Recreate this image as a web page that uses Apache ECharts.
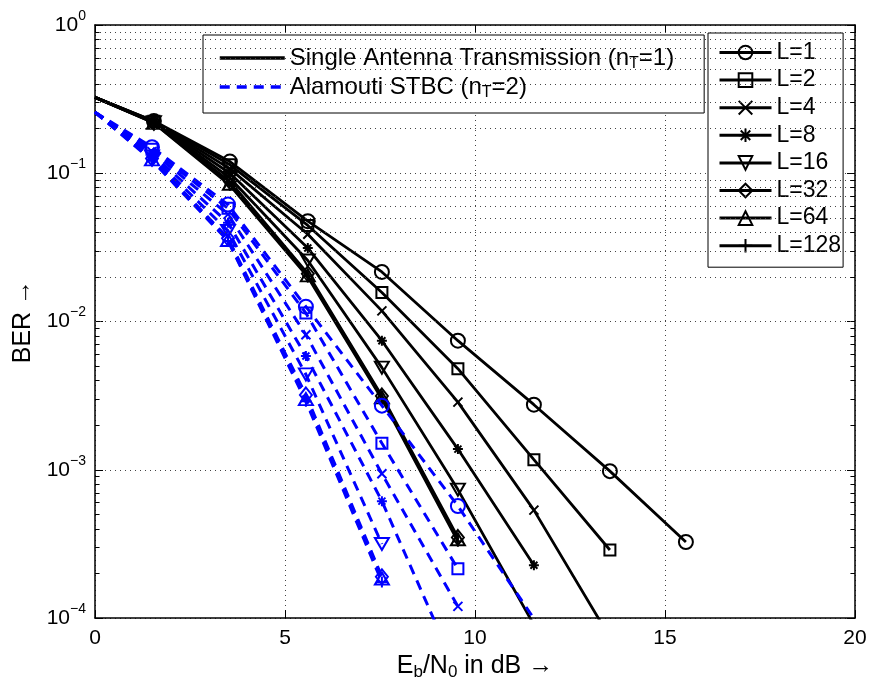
<!DOCTYPE html>
<html>
<head>
<meta charset="utf-8">
<script src="https://cdn.jsdelivr.net/npm/echarts@6/dist/echarts.min.js"></script>
<style>
  html, body { margin: 0; padding: 0; background: #fff; }
  #chart { width: 870px; height: 686px; }
</style>
</head>
<body>
<div id="chart"></div>
<script>
// Eb/N0 grid in dB
var ebnoSingle   = [0, 1.55, 3.55, 5.6, 7.55, 9.55, 11.55, 13.55, 15.55];
var ebnoAlamouti = [0, 1.5, 3.5, 5.55, 7.55, 9.55, 11.6];

var orders = ['L=1', 'L=2', 'L=4', 'L=8', 'L=16', 'L=32', 'L=64', 'L=128'];

// BER, single antenna transmission (nT=1)
var single1   = [0.325, 0.225, 0.120, 0.0475, 0.0216, 0.00743, 0.00275, 0.00098, 0.000326];
var single2   = [0.325, 0.224, 0.114, 0.0445, 0.0157, 0.00481, 0.00117, 0.000288];
var single4   = [0.325, 0.223, 0.107, 0.0388, 0.0118, 0.00286, 0.000535, 0.000074];
var single8   = [0.325, 0.222, 0.100, 0.0313, 0.00743, 0.00138, 0.000227];
var single16  = [0.325, 0.221, 0.093, 0.0258, 0.00489, 0.000736, 0.00009];
var single32  = [0.325, 0.220, 0.088, 0.0210, 0.00315, 0.00035];
var single64  = [0.325, 0.219, 0.085, 0.0205, 0.00308, 0.00034];
var single128 = [0.325, 0.218, 0.083, 0.0200, 0.00300, 0.00033];

// BER, Alamouti STBC (nT=2)
var alam1   = [0.258, 0.150, 0.0615, 0.0126, 0.00271, 0.00057, 0.000095];
var alam2   = [0.258, 0.145, 0.058, 0.0114, 0.00151, 0.000215];
var alam4   = [0.258, 0.140, 0.0528, 0.00815, 0.00094, 0.00012];
var alam8   = [0.258, 0.135, 0.0464, 0.00585, 0.000615, 0.000042];
var alam16  = [0.258, 0.130, 0.0409, 0.0044, 0.000316];
var alam32  = [0.258, 0.126, 0.0365, 0.0032, 0.00019];
var alam64  = [0.258, 0.124, 0.0355, 0.0030, 0.000185];
var alam128 = [0.258, 0.122, 0.0350, 0.0029, 0.000175];

var singleSets = [single1, single2, single4, single8, single16, single32, single64, single128];
var alamSets = [alam1, alam2, alam4, alam8, alam16, alam32, alam64, alam128];

var FONT = "'Liberation Sans', Arial, Helvetica, sans-serif";

// matlab-ish markers
var markers = [
  { symbol: 'circle', size: 14 },
  { symbol: 'rect', size: 11 },
  { symbol: 'path://M0,0L10,10M10,0L0,10', size: 9 },
  { symbol: 'path://M5,0L5,10M0,5L10,5M1.5,1.5L8.5,8.5M8.5,1.5L1.5,8.5', size: 10 },
  { symbol: 'path://M0,0L10,0L5,9Z', size: [14, 12] },
  { symbol: 'diamond', size: [12, 15] },
  { symbol: 'triangle', size: [14, 12] },
  { symbol: 'path://M5,0L5,10M0,5L10,5', size: 11 }
];

function makeSeries(name, xs, ys, mk, color, dashed) {
  var data = [];
  for (var i = 0; i < ys.length; i++) {
    var item = { value: [xs[i], ys[i]] };
    if (i === 0 || ys[i] < 1e-4) item.symbol = 'none';
    data.push(item);
  }
  return {
    name: name,
    type: 'line',
    data: data,
    symbol: mk.symbol,
    symbolSize: mk.size,
    lineStyle: { color: color, width: dashed ? 3 : 2.8, type: dashed ? [10, 7] : 'solid' },
    itemStyle: { color: 'rgba(0,0,0,0)', borderColor: color, borderWidth: 2 },
    emphasis: { disabled: true },
    z: dashed ? 4 : 3
  };
}

var series = [];
for (var i = 0; i < orders.length; i++) {
  series.push(makeSeries(orders[i], ebnoSingle, singleSets[i], markers[i], '#000', false));
}
for (var i = 0; i < orders.length; i++) {
  series.push(makeSeries('Alamouti ' + orders[i], ebnoAlamouti, alamSets[i], markers[i], '#0000ff', true));
}

// dummy series just for the nT legend box (no marker)
var noMark = { color: 'rgba(0,0,0,0)', borderWidth: 0 };
series.push({ name: 'Single Antenna Transmission (nT=1)', type: 'line', data: [], symbol: 'none',
  itemStyle: noMark, lineStyle: { color: '#000', width: 3 } });
series.push({ name: 'Alamouti STBC (nT=2)', type: 'line', data: [], symbol: 'none',
  itemStyle: noMark, lineStyle: { color: '#0000ff', width: 3, type: [10, 7] } });

// minor grid + minor ticks (log decades 2..9)
var dotted = { type: [1, 4], color: '#444', width: 1 };
var minorLines = [];
for (var d = -4; d < 0; d++) {
  for (var k = 2; k <= 9; k++) {
    var v = k * Math.pow(10, d);
    minorLines.push({ yAxis: v, lineStyle: dotted });
    minorLines.push([{ coord: [0, v], lineStyle: { type: 'solid', color: '#000', width: 1 } }, { coord: [0.12, v] }]);
    minorLines.push([{ coord: [19.88, v], lineStyle: { type: 'solid', color: '#000', width: 1 } }, { coord: [20, v] }]);
  }
}
series.push({
  type: 'line', data: [], z: 1, silent: true,
  markLine: { silent: true, symbol: ['none', 'none'], label: { show: false }, animation: false, data: minorLines }
});

var chart = echarts.init(document.getElementById('chart'));

var tickStyle = { show: true, inside: true, length: 8, lineStyle: { color: '#000', width: 1 } };
var boxLine = { show: true, onZero: false, lineStyle: { color: '#000', width: 1.5 } };

var supRich = {
  b: { fontSize: 21, lineHeight: 32, fontFamily: FONT, color: '#000' },
  p: { fontSize: 14, lineHeight: 18, verticalAlign: 'top', fontFamily: FONT, color: '#000' }
};
function subRich(big, small) {
  return {
    t: { fontSize: big, lineHeight: big + 4, fontFamily: FONT, color: '#000' },
    s: { fontSize: small, lineHeight: small, verticalAlign: 'bottom', fontFamily: FONT, color: '#000' }
  };
}

chart.setOption({
  animation: false,
  backgroundColor: '#fff',
  textStyle: { fontFamily: FONT },
  grid: { left: 95, right: 15, top: 25, bottom: 61 },
  xAxis: [{
    type: 'value', min: 0, max: 20, interval: 5,
    axisLine: boxLine, axisTick: tickStyle,
    axisLabel: { fontSize: 21, color: '#000', margin: 10, fontFamily: FONT },
    splitLine: { show: true, lineStyle: dotted },
    name: '{t|E}{s|b}{t|/N}{s|0}{t| in dB \u2192}',
    nameLocation: 'middle', nameGap: 19,
    nameTextStyle: { rich: subRich(25, 17) }
  }, {
    type: 'value', position: 'top', min: 0, max: 20, interval: 5,
    axisLine: boxLine, axisTick: tickStyle, axisLabel: { show: false }, splitLine: { show: false }
  }],
  yAxis: [{
    type: 'log', logBase: 10, min: 1e-4, max: 1,
    axisLine: boxLine, axisTick: tickStyle,
    axisLabel: {
      margin: 9,
      formatter: function (v) {
        var e = Math.round(Math.log10(v));
        return '{b|10}{p|' + (e < 0 ? '\u2212' + (-e) : e) + '}';
      },
      rich: supRich
    },
    splitLine: { show: true, lineStyle: dotted },
    name: 'BER \u2192', nameLocation: 'middle', nameGap: 52, nameRotate: 90,
    nameTextStyle: { fontSize: 25, color: '#000', fontFamily: FONT }
  }, {
    type: 'log', logBase: 10, min: 1e-4, max: 1, position: 'right',
    axisLine: boxLine, axisTick: tickStyle, axisLabel: { show: false }, splitLine: { show: false }
  }],
  legend: [{
    data: ['Single Antenna Transmission (nT=1)', 'Alamouti STBC (nT=2)'],
    left: 203, top: 35, orient: 'vertical',
    itemWidth: 65, itemHeight: 20, itemGap: 3, itemTextGap: 14,
    padding: [11, 30, 12, 15],
    backgroundColor: '#fff', borderColor: '#000', borderWidth: 1,
    selectedMode: false,
    lineStyle: { width: 3.5 },
    formatter: function (name) {
      return '{t|' + name.replace('(nT=', '(n}{s|T}{t|=') + '}';
    },
    textStyle: { rich: subRich(24, 16) }
  }, {
    data: orders,
    left: 708, top: 33, orient: 'vertical',
    itemWidth: 52, itemHeight: 17, itemGap: 4.6, itemTextGap: 7,
    padding: [8, 2, 10, 10],
    backgroundColor: '#fff', borderColor: '#000', borderWidth: 1,
    selectedMode: false,
    lineStyle: { width: 3 },
    textStyle: { fontSize: 23, lineHeight: 22, color: '#000', fontFamily: FONT }
  }],
  series: series
});
</script>
</body>
</html>
